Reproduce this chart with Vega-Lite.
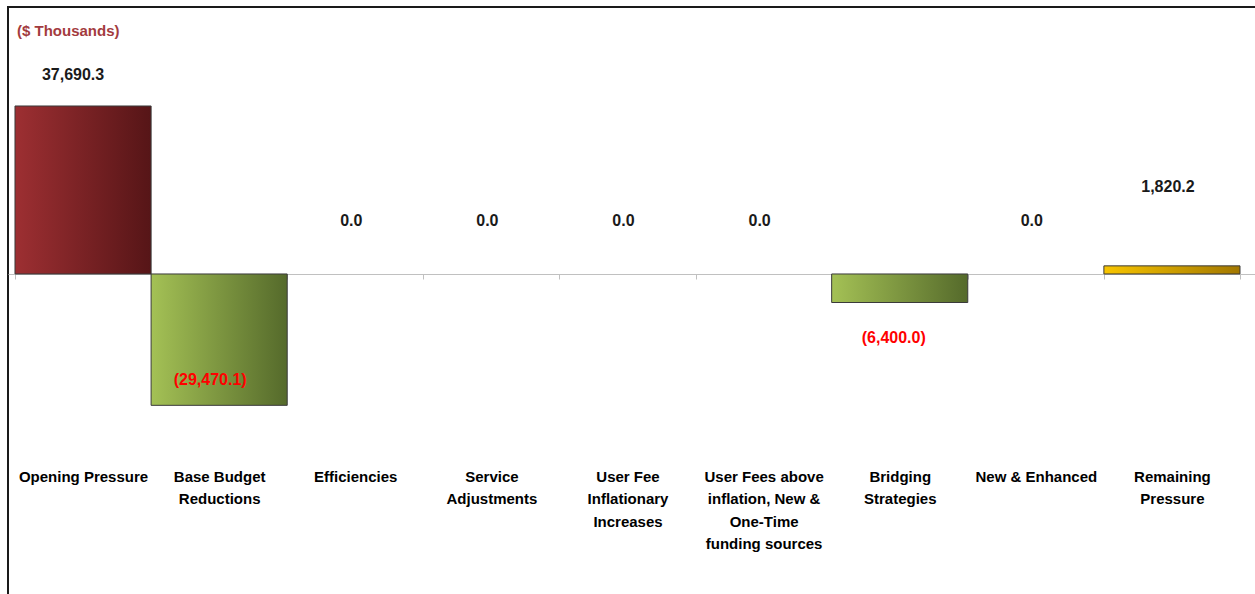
{
  "$schema": "https://vega.github.io/schema/vega-lite/v6.json",
  "autosize": {"type": "none"},
  "width": 1247,
  "height": 587,
  "padding": {"left": 8, "top": 7, "right": 0, "bottom": 0},
  "background": "white",
  "config": {
    "view": {"stroke": "#1a1a1a", "strokeWidth": 2, "strokeDash": [1247, 1834, 587]},
    "font": "Liberation Sans"
  },
  "title": {
    "text": "($ Thousands)",
    "anchor": "start",
    "frame": "group",
    "orient": "top",
    "offset": 0,
    "baseline": "middle",
    "dx": 9,
    "dy": 39,
    "font": "Liberation Sans",
    "fontSize": 15,
    "fontWeight": "bold",
    "color": "#a33b3e"
  },
  "data": {
    "values": [
      {"category": "Opening Pressure", "value": 37690.3, "type": "opening"},
      {"category": "Base Budget Reductions", "value": -29470.1, "type": "reduction"},
      {"category": "Efficiencies", "value": 0.0, "type": "reduction"},
      {"category": "Service Adjustments", "value": 0.0, "type": "reduction"},
      {"category": "User Fee Inflationary Increases", "value": 0.0, "type": "reduction"},
      {"category": "User Fees above inflation, New & One-Time funding sources", "value": 0.0, "type": "reduction"},
      {"category": "Bridging Strategies", "value": -6400.0, "type": "reduction"},
      {"category": "New & Enhanced", "value": 0.0, "type": "reduction"},
      {"category": "Remaining Pressure", "value": 1820.2, "type": "remaining"}
    ]
  },
  "encoding": {
    "x": {
      "field": "category",
      "type": "nominal",
      "sort": ["Opening Pressure", "Base Budget Reductions", "Efficiencies", "Service Adjustments", "User Fee Inflationary Increases", "User Fees above inflation, New & One-Time funding sources", "Bridging Strategies", "New & Enhanced", "Remaining Pressure"],
      "scale": {"paddingInner": 0, "paddingOuter": 0.0808, "align": 0.318},
      "axis": {
        "title": null,
        "orient": "bottom",
        "offset": -320,
        "domain": true,
        "domainColor": "#c0c0c0",
        "domainWidth": 1,
        "ticks": true,
        "tickBand": "extent",
        "tickSize": 5,
        "tickColor": "#c0c0c0",
        "labelPadding": 190,
        "labelAngle": 0,
        "labelBaseline": "top",
        "labelFont": "Liberation Sans",
        "labelFontSize": 15,
        "labelFontWeight": "bold",
        "labelColor": "#000000",
        "labelLineHeight": 22.5,
        "labelLimit": 300,
        "labelOverlap": false,
        "labelExpr": "datum.label == 'Base Budget Reductions' ? ['Base Budget', 'Reductions'] : datum.label == 'Service Adjustments' ? ['Service', 'Adjustments'] : datum.label == 'User Fee Inflationary Increases' ? ['User Fee', 'Inflationary', 'Increases'] : datum.label == 'User Fees above inflation, New & One-Time funding sources' ? ['User Fees above', 'inflation, New &', 'One-Time', 'funding sources'] : datum.label == 'Bridging Strategies' ? ['Bridging', 'Strategies'] : datum.label == 'Remaining Pressure' ? ['Remaining', 'Pressure'] : datum.label"
      }
    },
    "y": {
      "field": "value",
      "type": "quantitative",
      "scale": {"domain": [-71800, 59900], "nice": false, "zero": true},
      "axis": null
    }
  },
  "layer": [
    {
      "transform": [{"filter": "datum.type == 'opening'"}],
      "mark": {
        "type": "bar",
        "stroke": "#3a3a3a",
        "strokeWidth": 1,
        "fill": {"gradient": "linear", "x1": 0, "x2": 1, "y1": 0, "y2": 0, "stops": [{"offset": 0, "color": "#9d2f32"}, {"offset": 1, "color": "#561517"}]}
      }
    },
    {
      "transform": [{"filter": "datum.type == 'reduction' && datum.value != 0"}],
      "mark": {
        "type": "bar",
        "stroke": "#3a3a3a",
        "strokeWidth": 1,
        "fill": {"gradient": "linear", "x1": 0, "x2": 1, "y1": 0, "y2": 0, "stops": [{"offset": 0, "color": "#a4c155"}, {"offset": 1, "color": "#556a2b"}]}
      }
    },
    {
      "transform": [{"filter": "datum.type == 'remaining'"}],
      "mark": {
        "type": "bar",
        "stroke": "#3a3a3a",
        "strokeWidth": 1,
        "fill": {"gradient": "linear", "x1": 0, "x2": 1, "y1": 0, "y2": 0, "stops": [{"offset": 0, "color": "#f8c500"}, {"offset": 1, "color": "#a27700"}]}
      }
    },
    {
      "transform": [{"filter": "datum.type == 'opening'"}],
      "mark": {"type": "text", "font": "Liberation Sans", "fontSize": 16, "fontWeight": "bold", "color": "#1a1a1a", "baseline": "middle", "dx": -10, "dy": -31},
      "encoding": {"text": {"field": "value", "type": "quantitative", "format": "(,.1f"}}
    },
    {
      "transform": [{"filter": "datum.type == 'remaining'"}],
      "mark": {"type": "text", "font": "Liberation Sans", "fontSize": 16, "fontWeight": "bold", "color": "#1a1a1a", "baseline": "middle", "dx": -4, "dy": -79},
      "encoding": {"text": {"field": "value", "type": "quantitative", "format": "(,.1f"}}
    },
    {
      "transform": [{"filter": "datum.value == 0"}],
      "mark": {"type": "text", "font": "Liberation Sans", "fontSize": 16, "fontWeight": "bold", "color": "#1a1a1a", "baseline": "middle", "dx": -4, "dy": -53},
      "encoding": {"text": {"field": "value", "type": "quantitative", "format": "(,.1f"}}
    },
    {
      "transform": [{"filter": "datum.value < -10000"}],
      "mark": {"type": "text", "font": "Liberation Sans", "fontSize": 16, "fontWeight": "bold", "color": "#ff0000", "baseline": "middle", "dx": -9, "dy": -25},
      "encoding": {"text": {"field": "value", "type": "quantitative", "format": "(,.1f"}}
    },
    {
      "transform": [{"filter": "datum.value < 0 && datum.value > -10000"}],
      "mark": {"type": "text", "font": "Liberation Sans", "fontSize": 16, "fontWeight": "bold", "color": "#ff0000", "baseline": "middle", "dx": -6, "dy": 35},
      "encoding": {"text": {"field": "value", "type": "quantitative", "format": "(,.1f"}}
    }
  ]
}
